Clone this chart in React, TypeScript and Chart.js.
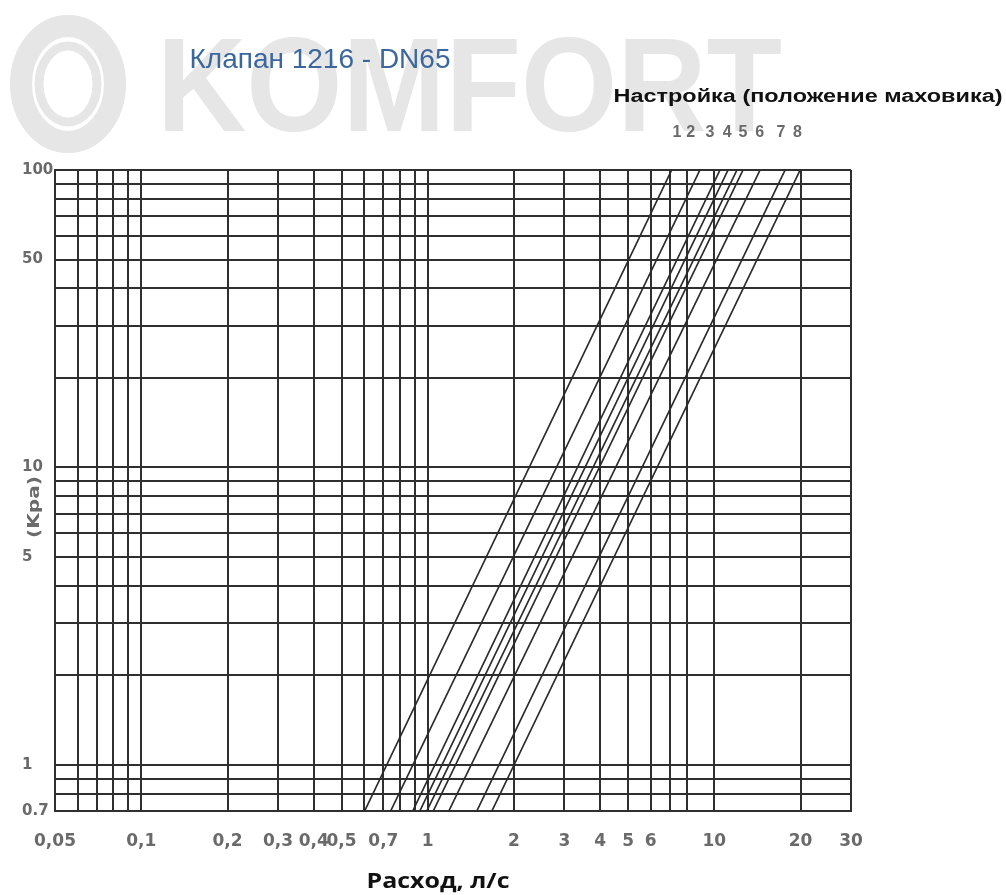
import React, { useEffect, useRef } from 'react';
import { Chart, registerables } from 'chart.js';

Chart.register(...registerables);

// Characteristic lines (flow vs. pressure drop)
// flow (l/s) where each line crosses the bottom edge (0.7 kPa)
const flowAtBottom = [0.602, 0.742, 0.886, 0.938, 0.992, 1.045, 1.184, 1.483, 1.674];
// flow (l/s) where each line reaches the top edge (100 kPa)
const flowAtTop = [7.1, 8.91, 10.47, 11.17, 12.0, 12.6, 14.45, 17.67, 19.94];
const pressureBottom = 0.7;
const pressureTop = 100;

// Settings (handwheel positions) labelled above the plot, and their flow positions
const settingLabels = ['1', '2', '3', '4', '5', '6', '7', '8'];
const labelFlow = [7.41, 8.27, 9.66, 11.1, 12.6, 14.4, 17.1, 19.5];

const xGridValues = [0.05, 0.06, 0.07, 0.08, 0.09, 0.1, 0.2, 0.3, 0.4, 0.5, 0.6, 0.7, 0.8, 0.9, 1, 2, 3, 4, 5, 6, 7, 8, 10, 20, 30];
const xTickLabels = [0.05, 0.1, 0.2, 0.3, 0.4, 0.5, 0.7, 1, 2, 3, 4, 5, 6, 10, 20, 30];
const yGridValues = [0.7, 0.8, 0.9, 1, 2, 3, 4, 5, 6, 7, 8, 9, 10, 20, 30, 40, 50, 60, 70, 80, 90, 100];
const yTickLabels = [0.7, 1, 5, 10, 50, 100];

const titleText = 'Клапан 1216 - DN65';
const settingTitle = 'Настройка (положение маховика)';
const xTitle = 'Расход, л/с';
const yTitle = '(Kpa)';
const watermark = 'KOMFORT';

const GRID = '#2f2f2f';

function drawText(
  ctx: CanvasRenderingContext2D,
  text: string,
  x: number,
  y: number,
  font: string,
  color: string,
  targetW: number | null,
  align: CanvasTextAlign = 'center',
  angle = 0,
  baseline: CanvasTextBaseline = 'alphabetic'
) {
  ctx.save();
  ctx.font = font;
  ctx.fillStyle = color;
  const w = ctx.measureText(text).width;
  const sx = targetW ? targetW / w : 1;
  ctx.translate(x, y);
  ctx.rotate(angle);
  ctx.scale(sx, 1);
  ctx.textAlign = align;
  ctx.textBaseline = baseline;
  ctx.fillText(text, 0, 0);
  ctx.restore();
}

const decorPlugin = {
  id: 'decor',
  beforeDraw(chart: any) {
    const ctx: CanvasRenderingContext2D = chart.ctx;
    ctx.save();
    // watermark logo
    ctx.strokeStyle = '#e6e6e6';
    ctx.lineWidth = 22;
    ctx.beginPath();
    ctx.ellipse(68, 84, 47, 58, 0, 0, Math.PI * 2);
    ctx.stroke();
    ctx.lineWidth = 9;
    ctx.beginPath();
    ctx.ellipse(68, 84, 29, 38, 0, 0, Math.PI * 2);
    ctx.stroke();
    ctx.restore();
    drawText(ctx, watermark, 157, 131, 'bold 134px "Liberation Sans"', '#e6e6e6', 625, 'left');
  },
  afterDraw(chart: any) {
    const ctx: CanvasRenderingContext2D = chart.ctx;
    const xs = chart.scales.x;
    const area = chart.chartArea;
    drawText(ctx, titleText, 320, 68, '28px "Liberation Sans"', '#3b679c', null, 'center');
    drawText(ctx, settingTitle, 808, 102, 'bold 18px "Liberation Sans"', '#111', 389, 'center');
    drawText(ctx, xTitle, 438, 888, 'bold 21px "Open Sans"', '#111', 143, 'center');
    drawText(ctx, yTitle, 39, 507, 'bold 16px "DejaVu Sans"', '#6a6a6a', 62, 'center', -Math.PI / 2);
    settingLabels.forEach((lab, i) => {
      const px = xs.getPixelForValue(labelFlow[i]);
      drawText(ctx, lab, px, area.top - 33, 'bold 16px "Liberation Sans"', '#6a6a6a', null, 'center');
    });
  },
};

export default function App() {
  const ref = useRef<HTMLCanvasElement>(null);
  useEffect(() => {
    document.body.style.margin = '0';
    const canvas = ref.current!;
    const datasets = flowAtTop.map((top, i) => ({
      label: 'line ' + (i + 1),
      data: [
        { x: flowAtBottom[i], y: pressureBottom },
        { x: top, y: pressureTop },
      ],
      borderColor: '#2a2a2a',
      borderWidth: 1.7,
      pointRadius: 0,
      showLine: true,
      fill: false,
    }));
    const chart = new Chart(canvas, {
      type: 'scatter',
      data: { datasets },
      plugins: [decorPlugin],
      options: {
        responsive: false,
        animation: false,
        events: [],
        layout: { padding: { left: 22, top: 170, right: 155, bottom: 0 } },
        plugins: { legend: { display: false }, tooltip: { enabled: false }, title: { display: false } },
        scales: {
          x: {
            type: 'logarithmic',
            min: 0.05,
            max: 30,
            afterBuildTicks: (s: any) => {
              s.ticks = xGridValues.map((v) => ({ value: v }));
            },
            afterFit: (s: any) => {
              s.height = 84;
            },
            grid: { color: GRID, lineWidth: 2, drawTicks: false },
            border: { display: true, color: GRID, width: 2 },
            ticks: {
              autoSkip: false,
              maxRotation: 0,
              minRotation: 0,
              padding: 20,
              color: '#6a6a6a',
              font: { family: '"DejaVu Sans"', size: 17, weight: 'bold' },
              callback: (v: any) => (xTickLabels.includes(Number(v)) ? String(v).replace('.', ',') : ''),
            },
          },
          y: {
            type: 'logarithmic',
            min: 0.7,
            max: 100,
            afterBuildTicks: (s: any) => {
              s.ticks = yGridValues.map((v) => ({ value: v }));
            },
            afterFit: (s: any) => {
              s.width = 33;
            },
            grid: { color: GRID, lineWidth: 2, drawTicks: false },
            border: { display: true, color: GRID, width: 2 },
            ticks: {
              autoSkip: false,
              crossAlign: 'far',
              padding: 0,
              color: '#6a6a6a',
              font: { family: '"DejaVu Sans"', size: 15, weight: 'bold' },
              callback: (v: any) => (yTickLabels.includes(Number(v)) ? String(v) : ''),
            },
          },
        },
      } as any,
    });
    return () => chart.destroy();
  }, []);
  return <canvas ref={ref} width={1006} height={895} style={{ display: 'block' }} />;
}
